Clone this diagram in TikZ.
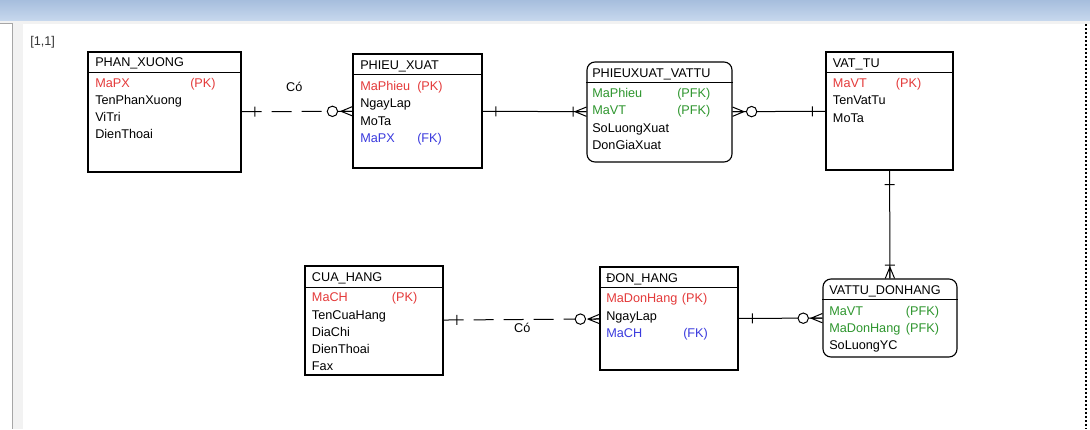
\documentclass[tikz,border=0pt]{standalone}
\usepackage{fontspec}
\setmainfont{Liberation Sans}
\usetikzlibrary{positioning,fit,decorations.markings}
\definecolor{cpk}{RGB}{228,58,58}
\definecolor{cfk}{RGB}{58,58,222}
\definecolor{cpf}{RGB}{46,150,46}
\definecolor{cbar}{RGB}{166,190,221}
\definecolor{cbar2}{RGB}{198,215,237}
\definecolor{cpane}{gray}{.95}
\tikzset{
    ent/.style={draw, line width=.85pt, inner sep=0pt, fit={#1}},
    rent/.style={ent={#1}, rounded corners=6pt},
    txt/.style={anchor=base west, inner sep=0pt, yshift=-3.4pt, font=\fontsize{9.5}{11}\selectfont},
    lbl/.style={inner sep=0pt, font=\fontsize{9.5}{11}\selectfont},
    rel/.style={line width=.75pt},
    opt/.style={dash pattern=on 15pt off 7.5pt},
    bar/.style={postaction={decorate, decoration={markings,
        mark=at position #1 with {\draw[solid] (0,-3.75pt) -- (0,3.75pt);}}}},
    ring/.style={postaction={decorate, decoration={markings,
        mark=at position #1 with {\draw[solid, fill=white] (0,0) circle (3.9pt);}}}},
    crowend/.style={postaction={decorate, decoration={markings,
        mark=at position -8.5pt with {\draw[solid] (8.5pt,3.5pt) -- (0,0) -- (8.5pt,-3.5pt) (0,0) -- (8.5pt,0);}}}},
    crowstart/.style={postaction={decorate, decoration={markings,
        mark=at position 8.5pt with {\draw[solid] (-8.5pt,3.5pt) -- (0,0) -- (-8.5pt,-3.5pt) (0,0) -- (-8.5pt,0);}}}}
}

\begin{document}
\begin{tikzpicture}[x=.75pt, y=-.75pt]
    \useasboundingbox (0,0) rectangle (1090,429);
    % window
    \fill[cpane] (0,20) rectangle (1090,429);
    \fill[white] (23,24) rectangle (1090,429);
    \fill[white] (0,23) rectangle (12,429);
    \shade[top color=cbar, bottom color=cbar2] (0,0) rectangle (1090,20);
    \draw[gray!70] (0,23) -- (12,23) -- (12,429);
    \draw[dash pattern=on 1.5pt off 1.5pt, line width=.8pt] (1086,24) -- (1086,429);
    \node[txt, text=black!80] (page) at (30,41) {[1,1]};
    % entities
    \node[ent={(88,52) (241,172)}] (px) {};
    \node[ent={(353,54) (482,168)}] (pxu) {};
    \node[rent={(587,62) (732,162)}] (pxv) {};
    \node[ent={(826,52) (953,170)}] (vt) {};
    \node[ent={(305,266) (443,375)}] (ch) {};
    \node[ent={(600,267) (738,370)}] (dh) {};
    \node[rent={(823,279) (957,357)}] (vdh) {};
    \draw[line width=.85pt] ([yshift=-15.75pt]px.north west) -- ([yshift=-15.75pt]px.north east);
    \draw[line width=.85pt] ([yshift=-15.75pt]pxu.north west) -- ([yshift=-15.75pt]pxu.north east);
    \draw[line width=.85pt] ([yshift=-15.75pt]pxv.north west) -- ([yshift=-15.75pt]pxv.north east);
    \draw[line width=.85pt] ([yshift=-15.75pt]vt.north west) -- ([yshift=-15.75pt]vt.north east);
    \draw[line width=.85pt] ([yshift=-16.5pt]ch.north west) -- ([yshift=-16.5pt]ch.north east);
    \draw[line width=.85pt] ([yshift=-15.75pt]dh.north west) -- ([yshift=-15.75pt]dh.north east);
    \draw[line width=.85pt] ([yshift=-15.5pt]vdh.north west) -- ([yshift=-15.5pt]vdh.north east);
    % PHAN_XUONG
    \node[txt] (px0) at (95,62) {PHAN\_XUONG};
    \node[txt, text=cpk] (px1) at (95,83) {MaPX};
    \node[txt, text=cpk] (px1k) at (190,83) {(PK)};
    \node[txt] (px2) at (95,100) {TenPhanXuong};
    \node[txt] (px3) at (95,117) {ViTri};
    \node[txt] (px4) at (95,134) {DienThoai};
    % PHIEU_XUAT
    \node[txt] (pxu0) at (360,65) {PHIEU\_XUAT};
    \node[txt, text=cpk] (pxu1) at (360,86) {MaPhieu};
    \node[txt, text=cpk] (pxu1k) at (417,86) {(PK)};
    \node[txt] (pxu2) at (360,103) {NgayLap};
    \node[txt] (pxu3) at (360,120.7) {MoTa};
    \node[txt, text=cfk] (pxu4) at (360,138) {MaPX};
    \node[txt, text=cfk] (pxu4k) at (417,138) {(FK)};
    % PHIEUXUAT_VATTU
    \node[txt] (pxv0) at (592,73) {PHIEUXUAT\_VATTU};
    \node[txt, text=cpf] (pxv1) at (592,92.7) {MaPhieu};
    \node[txt, text=cpf] (pxv1k) at (677,92.7) {(PFK)};
    \node[txt, text=cpf] (pxv2) at (592,110) {MaVT};
    \node[txt, text=cpf] (pxv2k) at (677,110) {(PFK)};
    \node[txt] (pxv3) at (592,127.7) {SoLuongXuat};
    \node[txt] (pxv4) at (592,145.3) {DonGiaXuat};
    % VAT_TU
    \node[txt] (vt0) at (832.7,62.7) {VAT\_TU};
    \node[txt, text=cpk] (vt1) at (832.7,82.7) {MaVT};
    \node[txt, text=cpk] (vt1k) at (895.7,82.7) {(PK)};
    \node[txt] (vt2) at (832.7,100) {TenVatTu};
    \node[txt] (vt3) at (832.7,118.3) {MoTa};
    % CUA_HANG
    \node[txt] (ch0) at (311.7,276.7) {CUA\_HANG};
    \node[txt, text=cpk] (ch1) at (311.7,297.3) {MaCH};
    \node[txt, text=cpk] (ch1k) at (391.7,297.3) {(PK)};
    \node[txt] (ch2) at (311.7,315) {TenCuaHang};
    \node[txt] (ch3) at (311.7,331.7) {DiaChi};
    \node[txt] (ch4) at (311.7,349) {DienThoai};
    \node[txt] (ch5) at (311.7,366) {Fax};
    % DON_HANG
    \node[txt] (dh0) at (606,277.7) {ĐON\_HANG};
    \node[txt, text=cpk] (dh1) at (606,297.7) {MaDonHang};
    \node[txt, text=cpk] (dh1k) at (681.7,297.7) {(PK)};
    \node[txt] (dh2) at (606,315.7) {NgayLap};
    \node[txt, text=cfk] (dh3) at (606,332.7) {MaCH};
    \node[txt, text=cfk] (dh3k) at (683,332.7) {(FK)};
    % VATTU_DONHANG
    \node[txt] (vdh0) at (829,290) {VATTU\_DONHANG};
    \node[txt, text=cpf] (vdh1) at (829,310.7) {MaVT};
    \node[txt, text=cpf] (vdh1k) at (905.7,310.7) {(PFK)};
    \node[txt, text=cpf] (vdh2) at (829,327.7) {MaDonHang};
    \node[txt, text=cpf] (vdh2k) at (905.7,327.7) {(PFK)};
    \node[txt] (vdh3) at (829,345) {SoLuongYC};
    % relationships
    \draw[rel, opt, bar=10pt, ring=-15pt, crowend] (px) -- (pxu)
        node[lbl, pos=.475, yshift=18.4pt] (co1) {Có};
    \draw[rel, bar=10pt, bar=-10pt, crowend] (pxu) -- (pxv);
    \draw[rel, crowstart, ring=14.3pt, bar=-9.75pt] (pxv) -- (vt);
    \draw[rel, bar=10.5pt, bar=-10pt, crowend] (vt) -- (vdh);
    \draw[rel, opt, bar=10pt, ring=-14.3pt, crowend] (ch) -- (dh)
        node[lbl, pos=.505, yshift=-6pt] (co2) {Có};
    \draw[rel, bar=10.3pt, ring=-14.4pt, crowend] (dh) -- (vdh);
\end{tikzpicture}
\end{document}
